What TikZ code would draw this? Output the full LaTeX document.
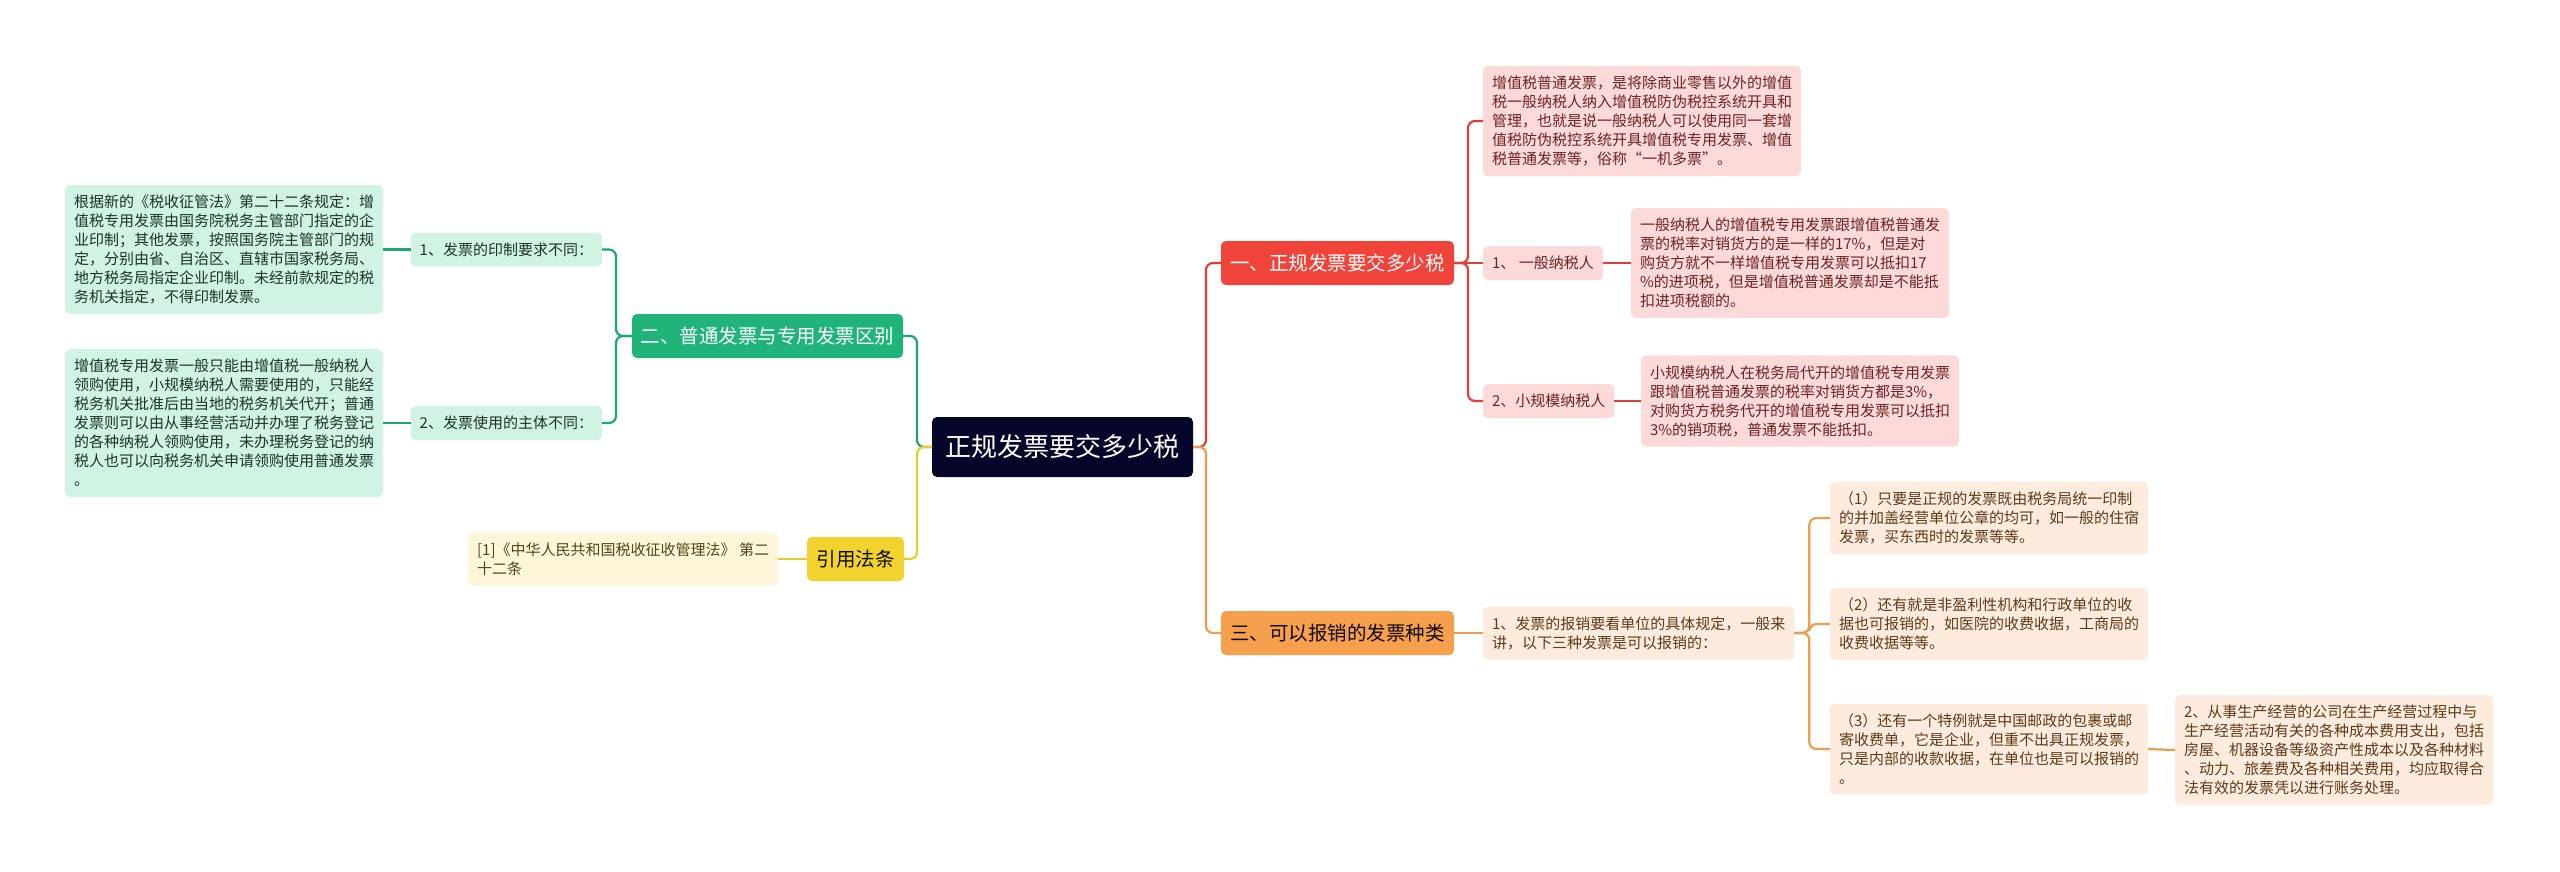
\documentclass[tikz,border=0pt]{standalone}
\usepackage{fontspec}
\setmainfont{Noto Sans CJK SC}
\definecolor{rootc}{HTML}{06062A}
\definecolor{redc}{HTML}{F0443A}
\definecolor{redl}{HTML}{E03E36}
\definecolor{redbg}{HTML}{FCDADA}
\definecolor{redtx}{HTML}{6E2222}
\definecolor{grnc}{HTML}{20B47B}
\definecolor{grnl}{HTML}{1CA673}
\definecolor{grnbg}{HTML}{D0F3E3}
\definecolor{grntx}{HTML}{1C3328}
\definecolor{orgc}{HTML}{F6A04D}
\definecolor{orgl}{HTML}{EF9C4B}
\definecolor{orgbg}{HTML}{FDECDD}
\definecolor{orgtx}{HTML}{5E3A18}
\definecolor{ylwc}{HTML}{F2D22C}
\definecolor{ylwl}{HTML}{EACB2C}
\definecolor{ylwbg}{HTML}{FDF6D8}
\definecolor{ylwtx}{HTML}{52451C}
\begin{document}
\begin{tikzpicture}[x=1pt,y=-1pt,
  every node/.style={inner sep=0pt,outer sep=0pt},
  rootbox/.style={fill=rootc,text=white,rounded corners=5pt,minimum width=261pt,minimum height=60pt,font=\fontsize{26}{30}\selectfont},
  branch/.style={rounded corners=5pt,minimum height=44pt,font=\fontsize{19.5}{23}\selectfont},
  leaf/.style={rounded corners=5pt,inner xsep=9pt,inner ysep=10pt,align=left,font=\fontsize{15}{19}\selectfont},
  tagbox/.style={rounded corners=5pt,inner xsep=9pt,minimum height=34pt,font=\fontsize{15}{19}\selectfont},
  conn/.style={line width=2.2pt,rounded corners=7pt},
  rline/.style={conn,draw=redl},
  gline/.style={conn,draw=grnl},
  oline/.style={conn,draw=orgl},
  yline/.style={conn,draw=ylwl}
]
\useasboundingbox[fill=white] (0,0) rectangle (2560,871);

% root
\node[rootbox] (root) at (1062.5,447) {正规发票要交多少税};

% branches
\node[branch,fill=redc,text=white,minimum width=233pt] (b1) at (1337.5,263) {一、正规发票要交多少税};
\node[branch,fill=orgc,text=black!85!orgtx,minimum width=233pt] (b3) at (1337.5,633) {三、可以报销的发票种类};
\node[branch,fill=grnc,text=white,minimum width=271pt] (b2) at (767.5,336) {二、普通发票与专用发票区别};
\node[branch,fill=ylwc,text=black!85!ylwtx,minimum width=97pt] (b4) at (855.5,559) {引用法条};

% red children
\node[leaf,fill=redbg,text=redtx,anchor=west] (r0) at (1483,121) {增值税普通发票，是将除商业零售以外的增值\\税一般纳税人纳入增值税防伪税控系统开具和\\管理，也就是说一般纳税人可以使用同一套增\\值税防伪税控系统开具增值税专用发票、增值\\税普通发票等，俗称“一机多票”。};
\node[tagbox,fill=redbg,text=redtx,anchor=west,minimum width=120pt] (r1) at (1483,263) {1、 一般纳税人};
\node[leaf,fill=redbg,text=redtx,anchor=west] (r1t) at (1631,263) {一般纳税人的增值税专用发票跟增值税普通发\\票的税率对销货方的是一样的17\%，但是对\\购货方就不一样增值税专用发票可以抵扣17\\\%的进项税，但是增值税普通发票却是不能抵\\扣进项税额的。};
\node[tagbox,fill=redbg,text=redtx,anchor=west,minimum width=129pt] (r2) at (1483,401) {2、小规模纳税人};
\node[leaf,fill=redbg,text=redtx,anchor=west] (r2t) at (1641,401) {小规模纳税人在税务局代开的增值税专用发票\\跟增值税普通发票的税率对销货方都是3\%，\\对购货方税务代开的增值税专用发票可以抵扣\\3\%的销项税，普通发票不能抵扣。};

% orange children
\node[leaf,fill=orgbg,text=orgtx,anchor=west] (o1) at (1483,633) {1、发票的报销要看单位的具体规定，一般来\\讲，以下三种发票是可以报销的：};
\node[leaf,fill=orgbg,text=orgtx,anchor=west] (o11) at (1830,518) {（1）只要是正规的发票既由税务局统一印制\\的并加盖经营单位公章的均可，如一般的住宿\\发票，买东西时的发票等等。};
\node[leaf,fill=orgbg,text=orgtx,anchor=west] (o12) at (1830,624) {（2）还有就是非盈利性机构和行政单位的收\\据也可报销的，如医院的收费收据，工商局的\\收费收据等等。};
\node[leaf,fill=orgbg,text=orgtx,anchor=west] (o13) at (1830,749) {（3）还有一个特例就是中国邮政的包裹或邮\\寄收费单，它是企业，但重不出具正规发票，\\只是内部的收款收据，在单位也是可以报销的\\。};
\node[leaf,fill=orgbg,text=orgtx,anchor=west] (o14) at (2175,750) {2、从事生产经营的公司在生产经营过程中与\\生产经营活动有关的各种成本费用支出，包括\\房屋、机器设备等级资产性成本以及各种材料\\、动力、旅差费及各种相关费用，均应取得合\\法有效的发票凭以进行账务处理。};

% green children
\node[tagbox,fill=grnbg,text=grntx,anchor=east,minimum width=189pt] (g1) at (602,249.5) {1、发票的印制要求不同：};
\node[tagbox,fill=grnbg,text=grntx,anchor=east,minimum width=189pt] (g2) at (602,423) {2、发票使用的主体不同：};
\node[leaf,fill=grnbg,text=grntx,anchor=east] (g1t) at (383,249.5) {根据新的《税收征管法》第二十二条规定：增\\值税专用发票由国务院税务主管部门指定的企\\业印制；其他发票，按照国务院主管部门的规\\定，分别由省、自治区、直辖市国家税务局、\\地方税务局指定企业印制。未经前款规定的税\\务机关指定，不得印制发票。};
\node[leaf,fill=grnbg,text=grntx,anchor=east] (g2t) at (383,423) {增值税专用发票一般只能由增值税一般纳税人\\领购使用，小规模纳税人需要使用的，只能经\\税务机关批准后由当地的税务机关代开；普通\\发票则可以由从事经营活动并办理了税务登记\\的各种纳税人领购使用，未办理税务登记的纳\\税人也可以向税务机关申请领购使用普通发票\\。};

% yellow child
\node[leaf,fill=ylwbg,text=ylwtx,anchor=east] (y1) at (778,559) {[1]《中华人民共和国税收征收管理法》 第二\\十二条};

% connectors from root
\draw[rline] (root.east) -- ++(13,0) |- (b1.west);
\draw[oline] (root.east) -- ++(13,0) |- (b3.west);
\draw[gline] (root.west) -- ++(-15,0) |- (b2.east);
\draw[yline] (root.west) -- ++(-15,0) |- (b4.east);

% red
\draw[rline] (b1.east) -- ++(14,0) |- (r0.west);
\draw[rline] (b1.east) -- (r1.west);
\draw[rline] (b1.east) -- ++(14,0) |- (r2.west);
\draw[rline] (r1.east) -- (r1t.west);
\draw[rline] (r2.east) -- (r2t.west);

% orange
\draw[oline] (b3.east) -- (o1.west);
\draw[oline] (o1.east) -- ++(15,0) |- (o11.west);
\draw[oline] (o1.east) -- ++(15,0) |- (o12.west);
\draw[oline] (o1.east) -- ++(15,0) |- (o13.west);
\draw[oline] (o13.east) -- (o14.west);

% green
\draw[gline] (b2.west) -- ++(-16,0) |- (g1.east);
\draw[gline] (b2.west) -- ++(-16,0) |- (g2.east);
\draw[gline] (g1.west) -- (g1t.east);
\draw[gline] (g2.west) -- (g2t.east);

% yellow
\draw[yline] (b4.west) -- (y1.east);
\end{tikzpicture}
\end{document}
